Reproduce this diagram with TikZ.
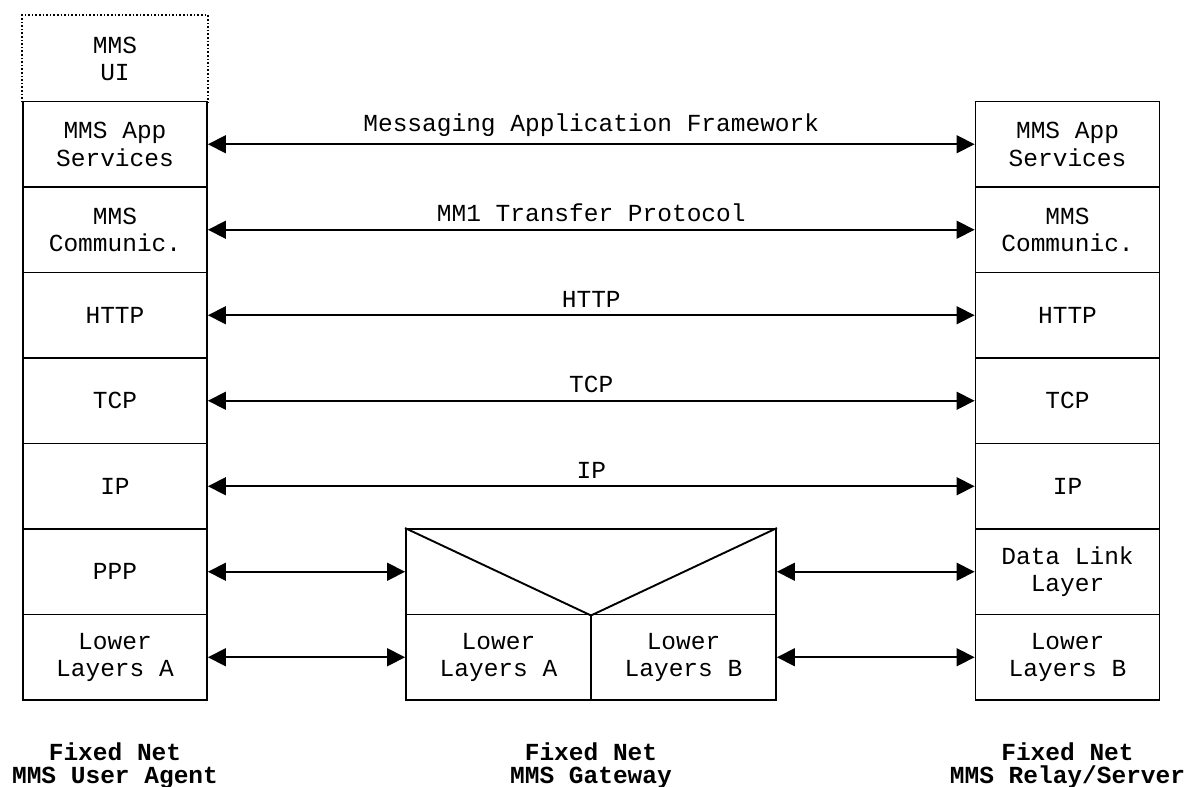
\documentclass[tikz,border=0pt]{standalone}
\usepackage{fontspec}
\setmonofont{Liberation Mono}
\usetikzlibrary{arrows.meta}
\begin{document}
\begin{tikzpicture}[x=1pt,y=-1pt,
  lay/.style={draw, line width=1.9pt, minimum width=184pt, minimum height=85.5pt, inner sep=0pt, align=center,
    font=\ttfamily\fontsize{24.5}{27.5}\selectfont},
  uibox/.style={lay, draw=none},
  conn/.style={line width=1.7pt, {Triangle[length=18pt,width=18pt]}-{Triangle[length=18pt,width=18pt]}},
  lbl/.style={font=\ttfamily\fontsize{24.5}{27.5}\selectfont, inner sep=0pt},
  captxt/.style={align=center, font=\ttfamily\bfseries\fontsize{24.5}{23}\selectfont, inner sep=0pt}]
\useasboundingbox (0,0) rectangle (1189,787);
% left stack
\node[uibox] (LUI) at (115,58.75) {MMS\\UI};
\draw[line width=1.6pt, dotted] (LUI.south west) -- (LUI.north west) -- (LUI.north east) -- (LUI.south east);
\node[lay] (L1) at (115,144.25) {MMS App\\Services};
\node[lay] (L2) at (115,229.75) {MMS\\Communic.};
\node[lay] (L3) at (115,315.25) {HTTP};
\node[lay] (L4) at (115,400.75) {TCP};
\node[lay] (L5) at (115,486.25) {IP};
\node[lay] (L6) at (115,571.75) {PPP};
\node[lay] (L7) at (115,657.25) {Lower\\Layers A};
% right stack
\node[lay] (R1) at (1067.5,144.25) {MMS App\\Services};
\node[lay] (R2) at (1067.5,229.75) {MMS\\Communic.};
\node[lay] (R3) at (1067.5,315.25) {HTTP};
\node[lay] (R4) at (1067.5,400.75) {TCP};
\node[lay] (R5) at (1067.5,486.25) {IP};
\node[lay] (R6) at (1067.5,571.75) {Data Link\\Layer};
\node[lay] (R7) at (1067.5,657.25) {Lower\\Layers B};
% gateway
\node[lay, minimum width=370pt] (G0) at (591,571.75) {};
\node[lay, minimum width=185pt] (GA) at (498.5,657.25) {Lower\\Layers A};
\node[lay, minimum width=185pt] (GB) at (683.5,657.25) {Lower\\Layers B};
\coordinate (GV) at (G0.south);
\draw[line width=1.9pt] (G0.north west) -- (GV) -- (G0.north east);
% connectors
\draw[conn] (L1.east) -- node[lbl, above=7pt] {Messaging Application Framework} (R1.west);
\draw[conn] (L2.east) -- node[lbl, above=7pt] {MM1 Transfer Protocol} (R2.west);
\draw[conn] (L3.east) -- node[lbl, above=7pt] {HTTP} (R3.west);
\draw[conn] (L4.east) -- node[lbl, above=7pt] {TCP} (R4.west);
\draw[conn] (L5.east) -- node[lbl, above=7pt] {IP} (R5.west);
\draw[conn] (L6.east) -- (G0.west);
\draw[conn] (G0.east) -- (R6.west);
\draw[conn] (L7.east) -- (GA.west);
\draw[conn] (GB.east) -- (R7.west);
% captions
\node[captxt] (C1) at (115,766) {Fixed Net\\MMS User Agent};
\node[captxt] (C2) at (591,766) {Fixed Net\\MMS Gateway};
\node[captxt] (C3) at (1067.5,766) {Fixed Net\\MMS Relay/Server};
\end{tikzpicture}
\end{document}
